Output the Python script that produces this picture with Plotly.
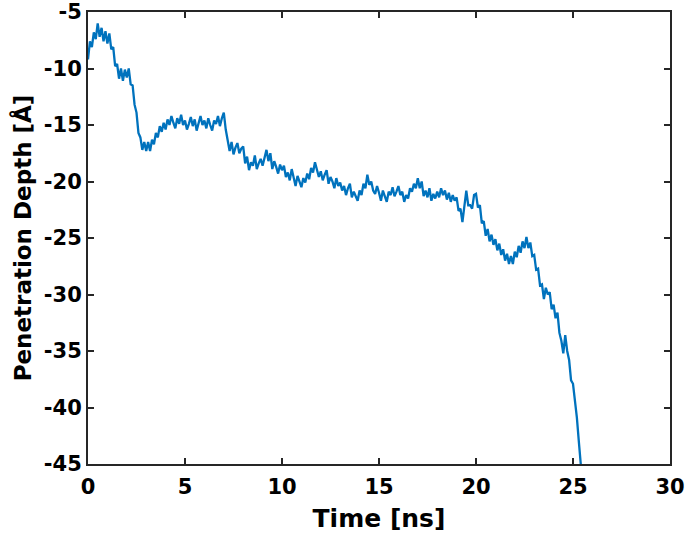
import plotly.graph_objects as go

depth = [
    -9.2, -7.6, -8.1, -6.8, -7.4, -6.0, -7.2, -6.4, -7.6, -6.7,
    -7.8, -6.9, -8.3, -8.1, -9.8, -9.6, -10.9, -10.0, -11.1, -10.1,
    -10.8, -10.0, -11.4, -11.5, -13.2, -13.9, -15.7, -16.1, -17.2, -16.5,
    -17.3, -16.5, -17.3, -16.3, -16.7, -15.7, -16.1, -15.1, -15.6, -14.8,
    -15.4, -14.5, -15.0, -14.2, -14.8, -15.3, -14.4, -14.9, -14.1, -15.0,
    -14.6, -15.4, -14.9, -14.3, -15.1, -14.5, -15.5, -14.7, -14.2, -15.0,
    -14.6, -15.3, -14.4, -15.0, -15.5, -14.6, -14.9, -14.2, -15.1, -14.4,
    -13.9, -15.4, -16.2, -17.3, -16.5, -17.6, -17.0, -16.6, -17.5, -17.1,
    -16.9, -18.4, -17.8, -19.0, -18.3, -18.6, -17.7, -18.9, -18.4, -18.0,
    -18.6, -17.9, -17.2, -18.2, -17.5, -18.9, -18.2, -18.7, -19.3, -18.5,
    -19.0, -18.6, -19.6, -19.2, -19.9, -18.9, -19.7, -20.4, -19.5, -20.1,
    -20.5, -19.7, -20.1, -19.3, -19.8, -18.8, -19.2, -18.3, -19.0, -19.6,
    -19.1, -19.9, -19.4, -19.0, -20.2, -19.6, -20.0, -20.6, -19.7, -20.4,
    -20.1, -20.8, -20.4, -21.2, -20.6, -20.2, -21.4, -20.9, -21.3, -21.7,
    -20.8, -21.2, -20.2, -20.6, -19.4, -20.3, -20.0, -20.8, -21.1, -20.4,
    -21.0, -21.7, -20.8, -21.4, -21.8, -20.9, -21.2, -20.5, -21.3, -20.9,
    -20.4, -21.2, -20.9, -21.8, -21.2, -21.5, -20.6, -20.9, -20.2, -20.6,
    -19.7, -20.6, -20.0, -21.3, -20.8, -21.4, -20.6, -21.7, -21.1, -21.5,
    -20.9, -21.4, -20.6, -21.2, -20.8, -21.6, -21.0, -21.8, -21.2, -21.7,
    -21.4, -22.6, -22.4, -23.6, -21.9, -20.8, -22.1, -22.1, -22.4, -21.2,
    -21.1, -22.3, -22.1, -23.7, -23.5, -24.8, -24.2, -25.3, -24.7, -25.6,
    -25.1, -26.1, -25.5, -26.5, -26.0, -27.0, -26.4, -27.3, -26.6, -27.3,
    -26.2, -26.7, -25.7, -26.3, -25.3, -25.9, -24.9, -25.9, -25.4, -26.6,
    -26.5, -27.8, -27.7, -29.2, -29.1, -30.4, -29.4, -30.0, -29.8, -31.3,
    -30.9, -32.1, -31.6, -33.4, -34.1, -35.2, -33.6, -35.0, -35.8, -37.6,
    -37.9, -39.4, -40.9, -43.0, -45.0,
]
time_ns = [round(i * 0.1, 1) for i in range(len(depth))]

x_ticks = [0, 5, 10, 15, 20, 25, 30]
y_ticks = [-45, -40, -35, -30, -25, -20, -15, -10, -5]

x_title = "Time [ns]"
y_title = "Penetration Depth [Å]"

fig = go.Figure()
fig.add_trace(go.Scatter(
    x=time_ns, y=depth, mode="lines",
    line=dict(color="#0072BD", width=2.3),
    showlegend=False,
))

axis_common = dict(
    showline=True, linecolor="#262626", linewidth=2, mirror="ticks",
    ticks="inside", ticklen=6, tickwidth=2, tickcolor="#262626",
    showgrid=False, zeroline=False, automargin=False,
    ticklabeloverflow="allow",
    tickfont=dict(family="DejaVu Sans", size=21, color="black", weight="bold"),
)

fig.update_xaxes(
    range=[0, 30], tickvals=x_ticks, ticktext=[str(v) for v in x_ticks],
    ticklabelstandoff=3,
    title=dict(text=x_title, font=dict(family="DejaVu Sans", size=25, color="black", weight="bold"), standoff=11),
    **axis_common,
)
fig.update_yaxes(
    range=[-45, -5], tickvals=y_ticks, ticktext=[str(v) for v in y_ticks],
    title=dict(text=y_title, font=dict(family="DejaVu Sans", size=23, color="black", weight="bold"), standoff=6),
    **axis_common,
)

fig.update_layout(
    width=685, height=534,
    margin=dict(l=88, r=15, t=12, b=70),
    plot_bgcolor="white", paper_bgcolor="white",
)

fig.write_html(
    "out.html",
    config={"displayModeBar": False},
    post_script="document.body.style.margin='0px';document.body.style.overflow='hidden';",
)
